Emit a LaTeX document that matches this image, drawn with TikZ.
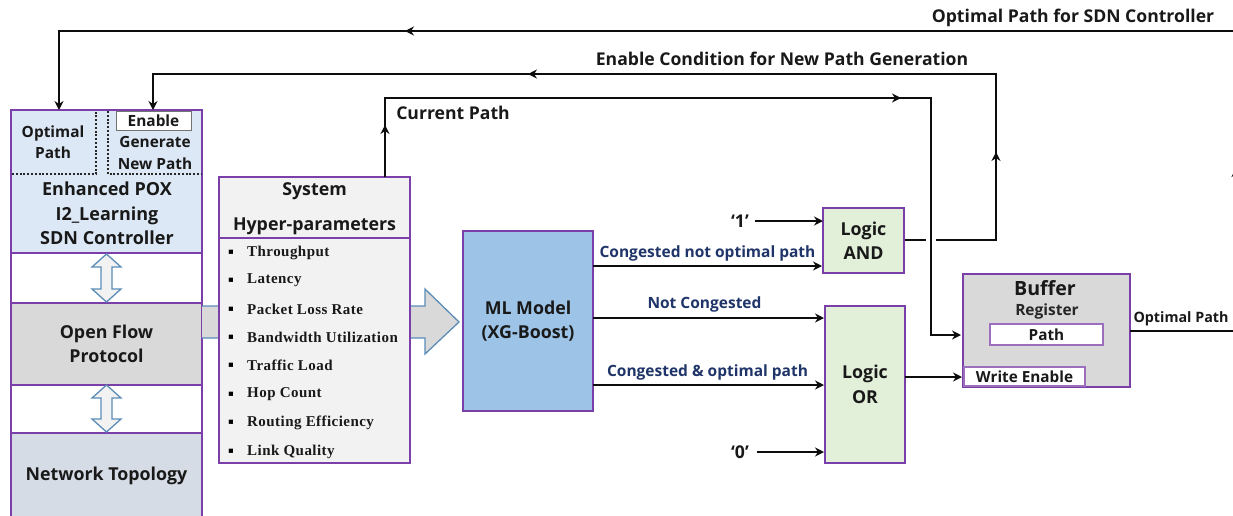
\documentclass[tikz,border=0pt]{standalone}
\usepackage{fontspec}
\setmainfont{Open Sans}
\newfontfamily\listfont[LetterSpace=3]{Liberation Serif}
\newfontfamily\bulfont{DejaVu Sans}
\usetikzlibrary{arrows.meta}
\definecolor{purp}{HTML}{7A3FA8}
\definecolor{navy}{HTML}{1F3468}
\definecolor{blueline}{HTML}{5B8DB8}
\definecolor{ctrlfill}{HTML}{DCE8F5}
\definecolor{topofill}{HTML}{D6DCE5}
\definecolor{mlfill}{HTML}{9DC3E6}
\definecolor{logicfill}{HTML}{E2F0D9}
\tikzset{
  x=1pt,y=-1pt,
  box/.style={draw=purp,line width=2.4pt,inner sep=0pt,align=center,font=\fontsize{17.8}{24.5}\selectfont\bfseries,text=black!90},
  thin box/.style={draw=purp!75,line width=1.2pt,fill=white,inner sep=0pt,font=\fontsize{15.3}{17}\selectfont\bfseries,text=black!90},
  lbl/.style={inner sep=0pt,font=\fontsize{17.6}{20}\selectfont\bfseries,text=black!90},
  navylbl/.style={lbl,text=navy,font=\fontsize{15.5}{18}\selectfont\bfseries},
  small/.style={inner sep=0pt,align=center,font=\fontsize{15.4}{21.5}\selectfont\bfseries,text=black!90},
  wire/.style={draw=black!95,line width=2.5pt},
  arr/.style={wire,-{Stealth[length=9pt,width=9pt]}},
  dots/.style={draw=black!85,line width=2pt,dash pattern=on 2pt off 1.8pt},
  item/.style={inner sep=0pt,anchor=west,font=\listfont\fontsize{15}{15}\selectfont\bfseries,text=black!90},
  bul/.style={inner sep=0pt,font=\bulfont\fontsize{8.5}{10}\selectfont,text=black},
  dbl/.style={draw=blueline,line width=1.3pt,fill=black!5,line join=miter},
}
\begin{document}
\begin{tikzpicture}
\useasboundingbox (0,0) rectangle (1233,515);
\fill[white] (0,0) rectangle (1233,515);

% left column
\node[box,fill=white,minimum width=191pt,minimum height=405pt] (column) at (106.5,312.5) {};
\node[box,fill=ctrlfill,minimum width=191pt,minimum height=143pt] (ctrl) at (106.5,181.5) {};
\node[box,fill=black!15,minimum width=191pt,minimum height=82pt] (ofp) at (106.5,344) {Open Flow\\Protocol};
\node[box,fill=topofill,minimum width=191pt,minimum height=84pt] (topo) at (106.5,475) {};
\node[inner sep=0pt,font=\fontsize{17.8}{24}\selectfont\bfseries,text=black!90] (topotext) at (106.5,475.5) {Network Topology};

% dotted partitions
\coordinate (d1) at (12,174); \coordinate (d2) at (96,174); \coordinate (d3) at (96,111);
\coordinate (d4) at (108,111); \coordinate (d5) at (108,174); \coordinate (d6) at (201,174);
\draw[dots] (d1) -- (d2) -- (d3);
\draw[dots] (d4) -- (d5) -- (d6);
\node[draw=black!55,line width=1pt,fill=white,minimum width=75pt,minimum height=19pt,inner sep=0pt,font=\fontsize{15.4}{17}\selectfont\bfseries,text=black!90] (enable) at (153.5,120.5) {Enable};
\node[small] (optimal) at (53,142) {Optimal\\Path};
\node[small] (generate) at (155,153) {Generate\\New Path};
\node[inner sep=0pt,align=center,font=\fontsize{18}{24.5}\selectfont\bfseries,text=black!90] (enhanced) at (107,213.5) {Enhanced POX\\I2\_Learning\\SDN Controller};

% big arrow behind hyper box
\coordinate (bigT) at (459,322);
\draw[blueline,line width=1.3pt,fill=black!15,line join=miter]
  (202,306) -- (425,306) -- (425,289) -- (bigT) -- (425,354) -- (425,338) -- (202,338);

% double arrows
\foreach \n/\t/\b in {upper/254/302,lower/385/432}{
  \draw[dbl] (106.5,\t) -- (121,\t+13) -- (112,\t+13) -- (112,\b-13) -- (121,\b-13) -- (106.5,\b)
     -- (92,\b-13) -- (101,\b-13) -- (101,\t+13) -- (92,\t+13) -- cycle;
}

% hyper box
\node[box,fill=black!5,minimum width=191pt,minimum height=286pt] (hyper) at (314.5,320) {};
\node[inner sep=0pt,align=center,font=\fontsize{17.8}{35}\selectfont\bfseries,text=black!90] (hypertitle) at (314.5,209) {System\\Hyper-parameters};
\coordinate (h1) at (219,238); \coordinate (h2) at (410,238);
\draw[purp,line width=2.4pt] (h1) -- (h2);
\foreach \n/\yy/\t in {a/252.5/Throughput,b/280.5/Latency,c/309/Packet Loss Rate,d/337/Bandwidth Utilization,e/365/Traffic Load,f/394.5/Hop Count,g/422.5/Routing Efficiency,h/451.5/Link Quality}{
  \node[bul] (bul\n) at (231,\yy) {▪};
  \node[item] (item\n) at (247,\yy) {\t};
}

% main blocks
\node[box,fill=mlfill,minimum width=130pt,minimum height=180pt] (ml) at (528,321) {ML Model\\(XG-Boost)};
\node[box,fill=logicfill,minimum width=81pt,minimum height=65pt] (and) at (863.5,240.5) {Logic\\AND};
\node[box,fill=logicfill,minimum width=80pt,minimum height=157pt] (or) at (865,384.5) {Logic\\OR};
\node[box,fill=black!15,minimum width=167pt,minimum height=113pt] (buffer) at (1046.5,330.5) {};
\node[inner sep=0pt,font=\fontsize{19.6}{22}\selectfont\bfseries,text=black!90] (buftitle) at (1045,288) {Buffer};
\node[inner sep=0pt,font=\fontsize{15.5}{17}\selectfont\bfseries,text=black!85] (reg) at (1047,311.5) {Register};
\node[thin box,minimum width=113pt,minimum height=21pt] (path) at (1046.5,334.5) {Path};
\node[thin box,minimum width=121pt,minimum height=19pt] (we) at (1024.5,376.5) {Write Enable};

% coordinates
\coordinate (one) at (755,221);
\coordinate (zero) at (757,452);
\coordinate (mlA) at (593,266); \coordinate (andA) at (822,266);
\coordinate (mlB) at (593,318); \coordinate (orB) at (824,318);
\coordinate (mlC) at (593,385); \coordinate (orC) at (824,385);
\coordinate (andO) at (823,221); \coordinate (orO) at (824,452);

\draw[arr] (one) -- (andO);
\draw[arr] (mlA) -- (andA);
\draw[arr] (mlB) -- (orB);
\draw[arr] (mlC) -- (orC);
\draw[arr] (zero) -- (orO);

% OR to write enable
\coordinate (orOut) at (905,377); \coordinate (bufW) at (962,377);
\draw[arr] (orOut) -- (bufW);

% current path
\coordinate (hyT) at (385,177); \coordinate (cp1) at (385,98); \coordinate (cp2) at (931,98);
\coordinate (cp3) at (931,335); \coordinate (bufP) at (961,335);
\draw[arr,line join=miter] (hyT) -- (cp1) -- (cp2) -- (cp3) -- (bufP);
\coordinate (cpm1) at (385,125); \coordinate (cpm2) at (901,98);
\draw[arr] (hyT) -- (cpm1);
\draw[arr] (cp1) -- (cpm2);

% enable path
\coordinate (aO) at (905,240); \coordinate (gapL) at (926,240); \coordinate (gapR) at (936,240);
\coordinate (en1) at (996,240); \coordinate (en2) at (996,74); \coordinate (en3) at (153,74);
\coordinate (en4) at (153,110);
\draw[wire] (aO) -- (gapL);
\draw[arr,line join=miter] (gapR) -- (en1) -- (en2) -- (en3) -- (en4);
\coordinate (enm1) at (996,152); \coordinate (enm2) at (528,74);
\draw[arr] (en1) -- (enm1);
\draw[arr] (en2) -- (enm2);

% optimal path (its right side runs just beyond the picture's edge)
\coordinate (bO) at (1130,331); \coordinate (r1) at (1236,331); \coordinate (r2) at (1236,31);
\coordinate (t1) at (59,31); \coordinate (t2) at (59,110);
\draw[arr,line join=miter] (bO) -- (r1) -- (r2) -- (t1) -- (t2);
\coordinate (rm) at (1236,168); \coordinate (tm) at (405,31);
\draw[arr] (r1) -- (rm);
\draw[arr] (r2) -- (tm);

% labels
\node[lbl] (l1) at (1073,18) {Optimal Path for SDN Controller};
\node[lbl] (l2) at (782,59) {Enable Condition for New Path Generation};
\node[lbl] (l3) at (453,113) {Current Path};
\node[navylbl] (l4) at (707.5,253.5) {Congested not optimal path};
\node[navylbl] (l5) at (704.5,304) {Not Congested};
\node[navylbl] (l6) at (707.5,372) {Congested \& optimal path};
\node[lbl] (l7) at (740,221) {‘1’};
\node[lbl] (l8) at (740,452) {‘0’};
\node[inner sep=0pt,font=\fontsize{14.3}{16}\selectfont\bfseries,text=black!90] (l9) at (1181,318.5) {Optimal Path};
\end{tikzpicture}
\end{document}
